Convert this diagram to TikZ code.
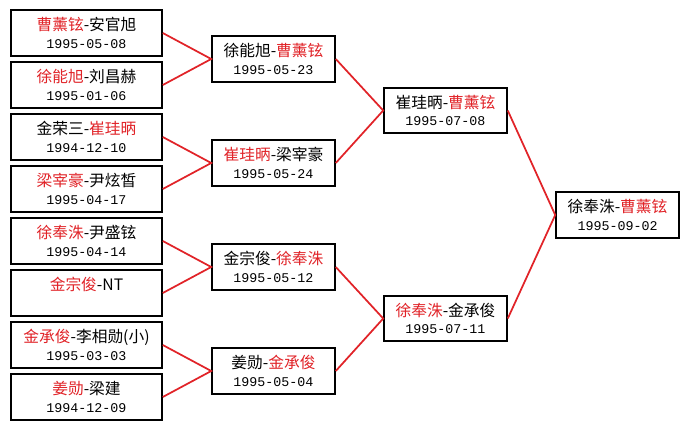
\documentclass[tikz,border=0pt]{standalone}
\usepackage{fontspec}
\usepackage{tikz}
\newfontfamily\cjk{Noto Sans CJK SC}
\newfontfamily\datefont{Liberation Mono}
\definecolor{winred}{RGB}{225,35,40}
\newcommand{\win}[1]{\textcolor{winred}{#1}}
\newcommand{\gday}[1]{{\datefont\fontsize{10}{12}\selectfont #1}}

\begin{document}
\begin{tikzpicture}[x=0.75pt,y=-0.75pt,
    game/.style={draw=black,line width=1.4pt,fill=white,align=center,inner sep=0pt,
        minimum height=34pt,font=\fontsize{11.8}{13}\selectfont\cjk},
    firstgame/.style={game,minimum width=113pt},
    latergame/.style={game,minimum width=92pt},
    advance/.style={draw=winred,line width=1.3pt}]
        \fill[white] (0,0) rectangle (689,429);
        \useasboundingbox (0,0) rectangle (689,429);% picture size in px
        % first round
        \node[firstgame] (m1) at (86.5,33) {\win{曹薰铉}-安官旭\\\gday{1995-05-08}};
        \node[firstgame] (m2) at (86.5,85) {\win{徐能旭}-刘昌赫\\\gday{1995-01-06}};
        \node[firstgame] (m3) at (86.5,137) {金荣三-\win{崔珪昞}\\\gday{1994-12-10}};
        \node[firstgame] (m4) at (86.5,189) {\win{梁宰豪}-尹炫皙\\\gday{1995-04-17}};
        \node[firstgame] (m5) at (86.5,241) {\win{徐奉洙}-尹盛铉\\\gday{1995-04-14}};
        \node[firstgame] (m6) at (86.5,293) {\win{金宗俊}-NT\\\gday{\phantom{0}}};
        \node[firstgame] (m7) at (86.5,345) {\win{金承俊}-李相勋(小)\\\gday{1995-03-03}};
        \node[firstgame] (m8) at (86.5,397) {\win{姜勋}-梁建\\\gday{1994-12-09}};
        % second round
        \node[latergame] (q1) at (273.5,59) {徐能旭-\win{曹薰铉}\\\gday{1995-05-23}};
        \node[latergame] (q2) at (273.5,163) {\win{崔珪昞}-梁宰豪\\\gday{1995-05-24}};
        \node[latergame] (q3) at (273.5,267) {金宗俊-\win{徐奉洙}\\\gday{1995-05-12}};
        \node[latergame] (q4) at (273.5,371) {姜勋-\win{金承俊}\\\gday{1995-05-04}};
        % semi finals
        \node[latergame] (s1) at (445.5,110.5) {崔珪昞-\win{曹薰铉}\\\gday{1995-07-08}};
        \node[latergame] (s2) at (445.5,318.5) {\win{徐奉洙}-金承俊\\\gday{1995-07-11}};
        % final
        \node[latergame] (f) at (617.5,215) {徐奉洙-\win{曹薰铉}\\\gday{1995-09-02}};
        \draw[advance] (m1.east) -- (q1.west) -- (m2.east);
        \draw[advance] (m3.east) -- (q2.west) -- (m4.east);
        \draw[advance] (m5.east) -- (q3.west) -- (m6.east);
        \draw[advance] (m7.east) -- (q4.west) -- (m8.east);
        \draw[advance] (q1.east) -- (s1.west) -- (q2.east);
        \draw[advance] (q3.east) -- (s2.west) -- (q4.east);
        \draw[advance] (s1.east) -- (f.west) -- (s2.east);
    \end{tikzpicture}
\end{document}
